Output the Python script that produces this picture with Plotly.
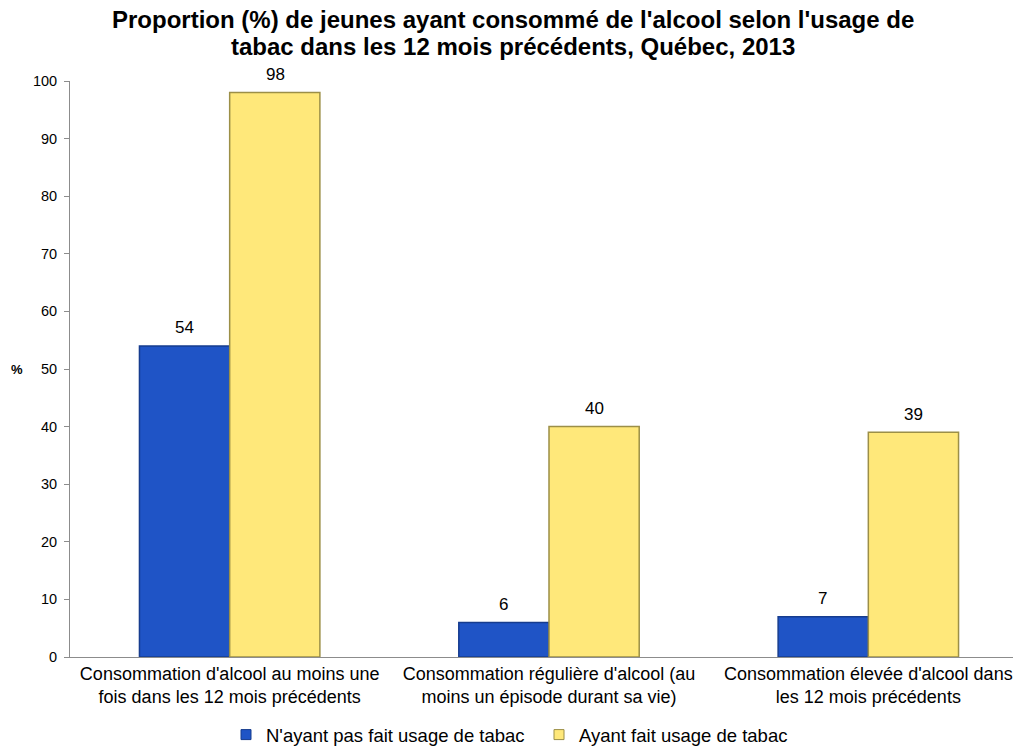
import plotly.graph_objects as go

categories = [
    "Consommation d'alcool au moins une<br>fois dans les 12 mois précédents",
    "Consommation régulière d'alcool (au<br>moins un épisode durant sa vie)",
    "Consommation élevée d'alcool dans<br>les 12 mois précédents",
]
non_fumeurs = [54, 6, 7]
fumeurs = [98, 40, 39]
series_names = ["N'ayant pas fait usage de tabac", "Ayant fait usage de tabac"]
colors = ["#1f54c6", "#ffe87a"]
edges = ["#163c8e", "#9c8f47"]

title_lines = [
    "Proportion (%) de jeunes ayant consommé de l'alcool selon l'usage de",
    "tabac dans les 12 mois précédents, Québec, 2013",
]

font = "Liberation Sans, Arial, sans-serif"

# page body has an 8px margin, so the layout is shifted up/left by 8px
plot_l, plot_w, plot_t, plot_h = 62, 958, 73, 576
bar_px = 45.5  # half of a bar width in pixels, used to place value labels

fig = go.Figure()
for name, vals, col, edge in zip(series_names, [non_fumeurs, fumeurs], colors, edges):
    fig.add_trace(go.Bar(
        x=categories, y=vals, name=name, showlegend=False,
        marker=dict(color=col, line=dict(color=edge, width=1.5)),
    ))
# legend entries with small square markers, one legend box each
for i, (name, col, edge) in enumerate(zip(series_names, colors, edges)):
    fig.add_trace(go.Scatter(
        x=[None], y=[None], mode="markers", name=name,
        legend="legend" if i == 0 else "legend2",
        marker=dict(symbol="square", size=10, color=col, line=dict(color=edge, width=1)),
    ))

annotations = []
for k, vals in enumerate([non_fumeurs, fumeurs]):
    for cat, v in zip(categories, vals):
        annotations.append(dict(
            x=cat, y=v, xref="x", yref="y", text=str(v), showarrow=False,
            xshift=-bar_px if k == 0 else bar_px, yshift=18,
            font=dict(size=17, color="black"),
        ))
for line, ypx in zip(title_lines, [11, 38]):
    annotations.append(dict(
        text="<b>" + line + "</b>", xref="paper", yref="paper",
        x=0.462, y=1 + (plot_t - ypx) / plot_h,
        xanchor="center", yanchor="middle", showarrow=False,
        font=dict(size=24, family=font, color="black"),
    ))
annotations.append(dict(
    text="<b>%</b>", xref="paper", yref="paper", x=(9 - plot_l) / plot_w, y=0.5,
    xanchor="center", yanchor="middle", showarrow=False, font=dict(size=13),
))

leg = dict(orientation="h", xanchor="left", yref="container", y=0.028,
           yanchor="middle", font=dict(size=18.5), itemwidth=30,
           bgcolor="rgba(0,0,0,0)")

fig.update_layout(
    width=1021, height=748,
    paper_bgcolor="white", plot_bgcolor="white",
    font=dict(family=font, color="black"),
    barmode="group", bargap=0.435, bargroupgap=0.0,
    margin=dict(l=plot_l, r=1021 - plot_l - plot_w, t=plot_t,
                b=748 - plot_t - plot_h, autoexpand=False),
    showlegend=True,
    legend=dict(leg, x=(218 - plot_l) / plot_w),
    legend2=dict(leg, x=(531 - plot_l) / plot_w),
    annotations=annotations,
)

fig.update_yaxes(range=[0, 100], dtick=10, showgrid=False, zeroline=False,
                 showline=True, linecolor="#8c8c8c", linewidth=1,
                 ticks="outside", ticklen=5, tickcolor="#8c8c8c",
                 tickfont=dict(size=14.5), ticklabelstandoff=4, automargin=False)
fig.update_xaxes(showgrid=False, showline=True, linecolor="#8c8c8c", linewidth=1,
                 ticks="", tickfont=dict(size=18), automargin=False)

fig.write_html("out.html")
